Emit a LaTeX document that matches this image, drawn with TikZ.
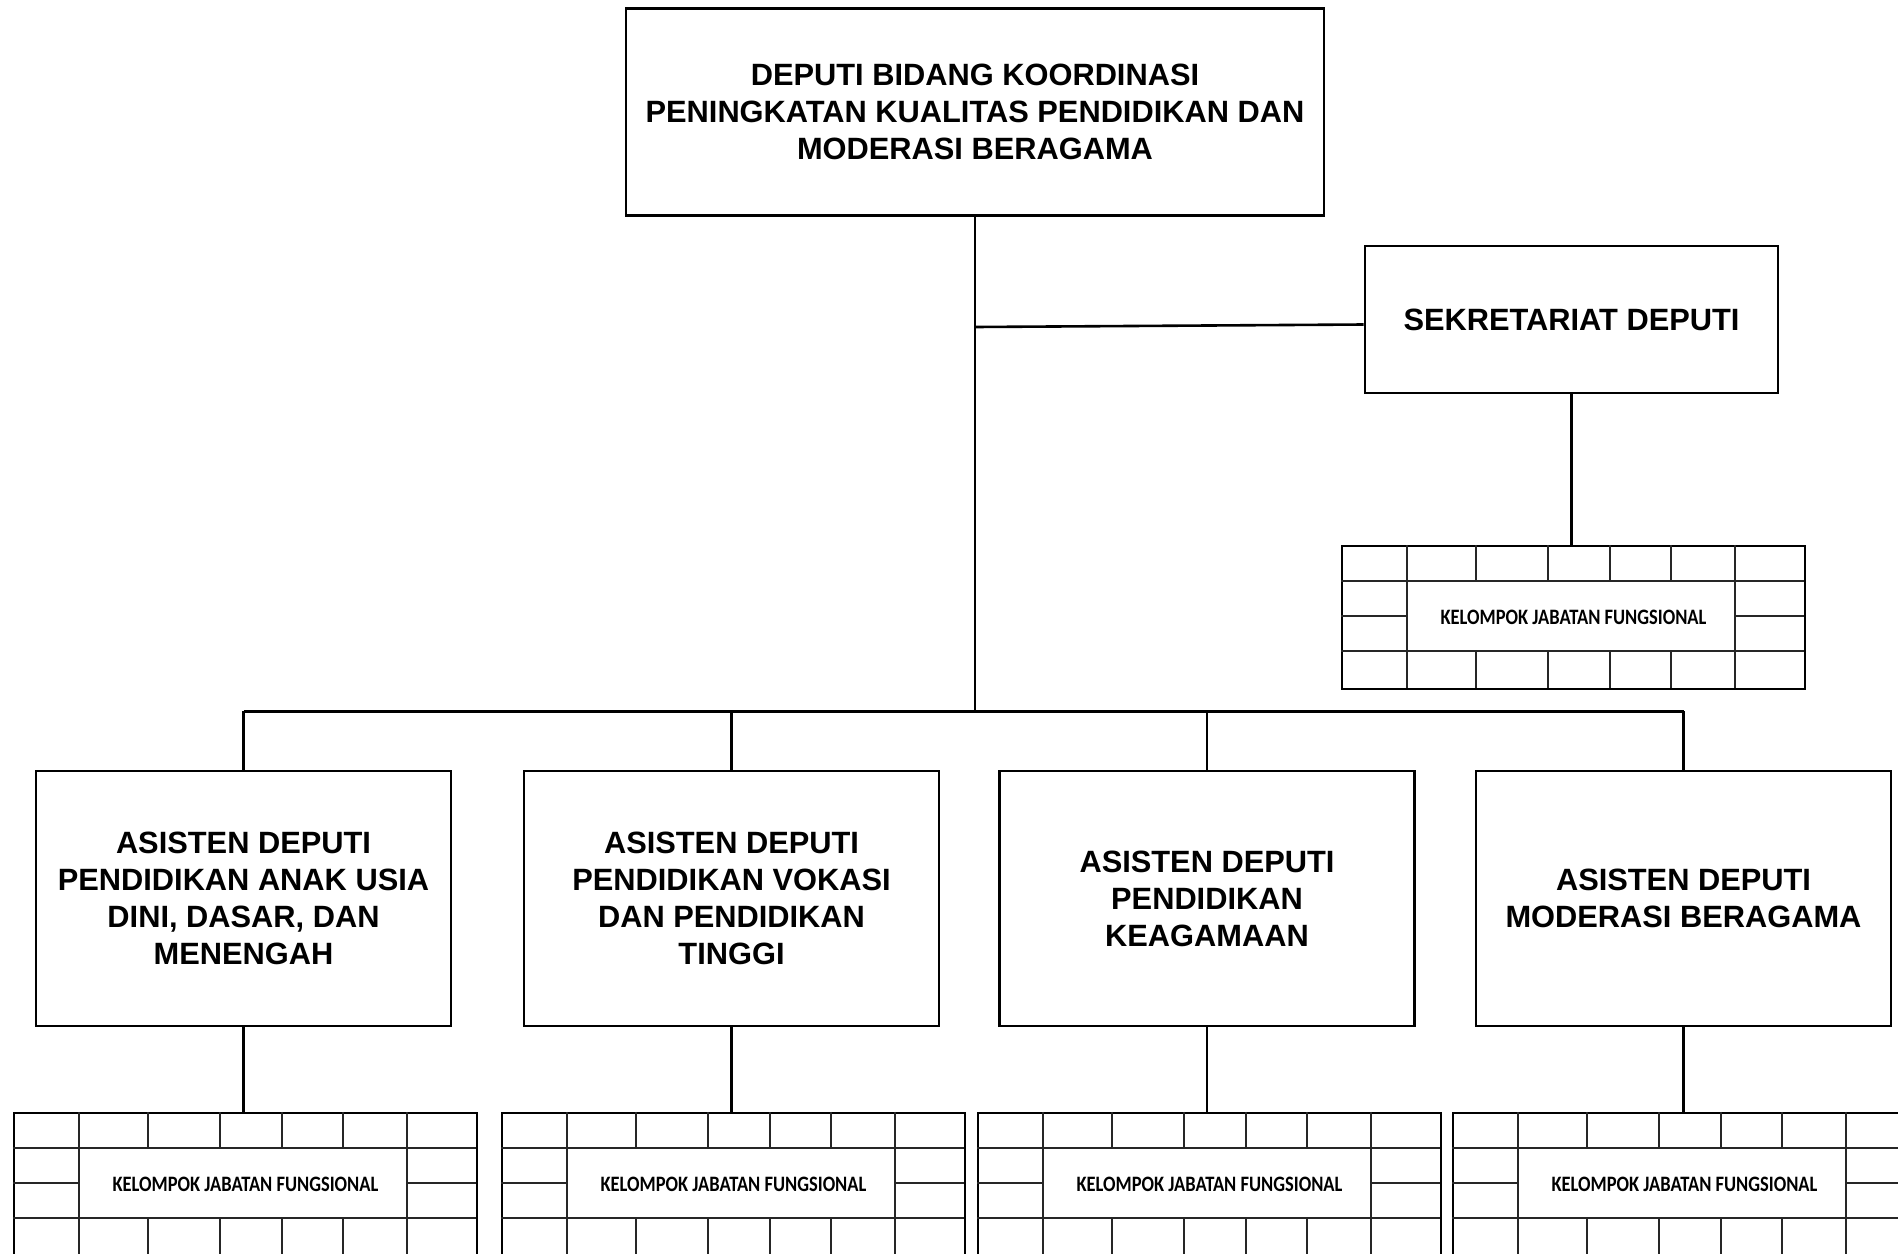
\documentclass[tikz,border=0pt]{standalone}
\usepackage{fontspec}
\setmainfont{Liberation Sans}
\newfontfamily\kjffont{Carlito}
\newcommand\kjftext{\scalebox{0.84}[1]{KELOMPOK JABATAN FUNGSIONAL}}
\tikzset{
  unitbox/.style={draw, line width=2.6pt, inner sep=0pt, align=center,
    font=\bfseries\fontsize{30.8}{37}\selectfont},
  kjfbox/.style={draw, line width=2.4pt, inner sep=0pt,
    minimum width=463pt, minimum height=143pt,
    font=\kjffont\bfseries\fontsize{22}{26}\selectfont},
  gridline/.style={line width=1.9pt, draw=black!85},
  conn/.style={line width=2.6pt},
}
\newcommand\kjfgrid[3]{%
  \node[kjfbox] (#1) at (#2,#3) {\kjftext};
  \begin{scope}[shift={(#1.north west)}]
    \draw[gridline] (0,36)--(463,36) (0,106)--(463,106)
      (0,71)--(66,71) (394,71)--(463,71)
      (66,0)--(66,143) (394,0)--(394,143);
    \foreach \c in {135,207,269,330}{
      \draw[gridline] (\c,0)--(\c,36) (\c,106)--(\c,143);
    }
  \end{scope}
}
\begin{document}
\begin{tikzpicture}[x=1pt,y=-1pt]
\useasboundingbox (0,0) rectangle (1898,1253);
\fill[white] (0,0) rectangle (1898,1253);
\clip (0,0) rectangle (1898,1253);

\node[unitbox, minimum width=698pt, minimum height=207pt] (deputi) at (975,112)
  {DEPUTI BIDANG KOORDINASI\\PENINGKATAN KUALITAS PENDIDIKAN DAN\\MODERASI BERAGAMA};
\node[unitbox, minimum width=413pt, minimum height=147pt] (sek) at (1571.5,319.5)
  {SEKRETARIAT DEPUTI};
\kjfgrid{kjf0}{1573.5}{617.5}

\node[unitbox, minimum width=415pt, minimum height=255pt] (as1) at (243.5,898.5)
  {ASISTEN DEPUTI\\PENDIDIKAN ANAK USIA\\DINI, DASAR, DAN\\MENENGAH};
\node[unitbox, minimum width=415pt, minimum height=255pt] (as2) at (731.5,898.5)
  {ASISTEN DEPUTI\\PENDIDIKAN VOKASI\\DAN PENDIDIKAN\\TINGGI};
\node[unitbox, minimum width=415pt, minimum height=255pt] (as3) at (1207,898.5)
  {ASISTEN DEPUTI\\PENDIDIKAN\\KEAGAMAAN};
\node[unitbox, minimum width=415pt, minimum height=255pt] (as4) at (1683.5,898.5)
  {ASISTEN DEPUTI\\MODERASI BERAGAMA};

\kjfgrid{kjf1}{245.5}{1184.5}
\kjfgrid{kjf2}{733.5}{1184.5}
\kjfgrid{kjf3}{1209.5}{1184.5}
\kjfgrid{kjf4}{1684.5}{1184.5}

\coordinate (bus) at (975,711);
\coordinate (sekj) at (975,327);
\draw[conn] (deputi.south) -- (bus);
\draw[conn] (sekj) -- ([yshift=-5pt]sek.west);
\draw[conn] (sek.south) -- (kjf0.north -| sek.south);
\draw[conn, line width=3pt] (as1.north |- bus) -- (as4.north |- bus);
\foreach \i in {1,2,3,4}{
  \draw[conn] (as\i.north |- bus) -- (as\i.north);
  \draw[conn] (as\i.south) -- (as\i.south |- kjf\i.north);
}
\end{tikzpicture}
\end{document}
